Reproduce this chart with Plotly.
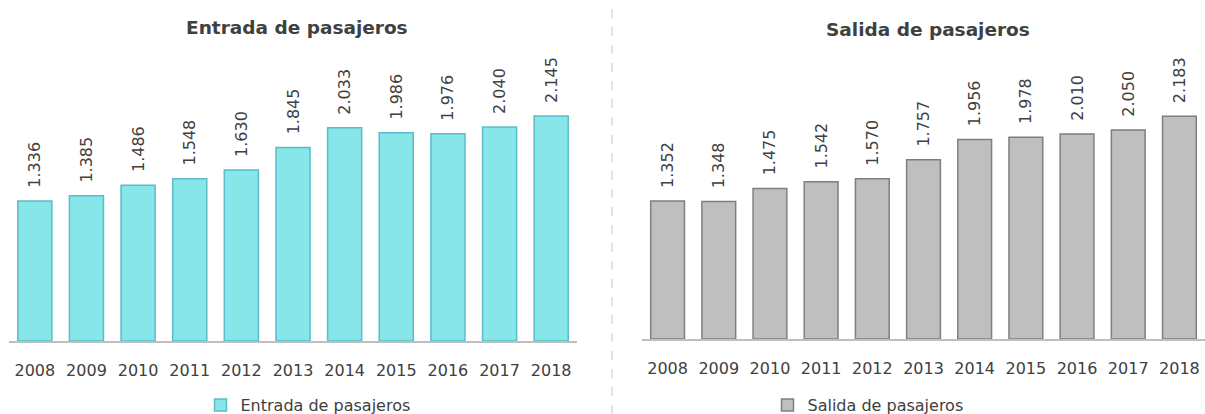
import plotly.graph_objects as go

years = ["2008", "2009", "2010", "2011", "2012", "2013", "2014", "2015", "2016", "2017", "2018"]
entrada = [1.336, 1.385, 1.486, 1.548, 1.630, 1.845, 2.033, 1.986, 1.976, 2.040, 2.145]
salida = [1.352, 1.348, 1.475, 1.542, 1.570, 1.757, 1.956, 1.978, 2.010, 2.050, 2.183]

FONT = "DejaVu Sans"
TXT = "#404040"
W, H = 1205, 414
PAD = "\u00a0\u00a0"  # small gap between bar top and rotated label

fig = go.Figure()
fig.add_trace(go.Bar(
    x=years, y=entrada, name="Entrada de pasajeros", showlegend=True,
    marker=dict(color="#86E6E8", line=dict(color="#5BBCCB", width=1.5)),
    text=[PAD + f"{v:.3f}" for v in entrada], textposition="outside", textangle=-90,
    constraintext="none",
    textfont=dict(family=FONT, size=16, color=TXT), cliponaxis=False,
    xaxis="x", yaxis="y", legend="legend",
))
fig.add_trace(go.Bar(
    x=years, y=salida, name="Salida de pasajeros", showlegend=True,
    marker=dict(color="#BFBFBF", line=dict(color="#7F7F7F", width=1.5)),
    text=[PAD + f"{v:.3f}" for v in salida], textposition="outside", textangle=-90,
    constraintext="none",
    textfont=dict(family=FONT, size=16, color=TXT), cliponaxis=False,
    xaxis="x2", yaxis="y2", legend="legend2",
))

def px_y(p):
    return 1 - p / H

axis_common = dict(showline=True, linecolor="#BFBFBF", linewidth=1.5, ticks="outside",
                   ticklen=14, tickcolor="rgba(0,0,0,0)", automargin=False,
                   tickfont=dict(family=FONT, size=16, color=TXT), showgrid=False, fixedrange=True)

fig.update_layout(
    width=W, height=H, margin=dict(l=0, r=0, t=0, b=0, autoexpand=False),
    paper_bgcolor="white", plot_bgcolor="white",
    bargap=0.34,
    showlegend=True,
    xaxis=dict(domain=[9 / W, 577 / W], anchor="y", **axis_common),
    yaxis=dict(domain=[px_y(341), px_y(60)], range=[0, 2.68], visible=False, anchor="x"),
    xaxis2=dict(domain=[642 / W, 1.0], anchor="y2", **axis_common),
    yaxis2=dict(domain=[px_y(339), px_y(60)], range=[0, 2.735], visible=False, anchor="x2"),
    legend=dict(x=308 / W, y=px_y(405), xanchor="center", yanchor="middle", orientation="h",
                font=dict(family=FONT, size=16, color=TXT), bgcolor="rgba(0,0,0,0)",
                itemwidth=30),
    legend2=dict(x=868 / W, y=px_y(405), xanchor="center", yanchor="middle", orientation="h",
                 font=dict(family=FONT, size=16, color=TXT), bgcolor="rgba(0,0,0,0)",
                 itemwidth=30),
    annotations=[
        dict(text="<b>Entrada de pasajeros</b>", x=297 / W, y=px_y(28), xref="paper", yref="paper",
             showarrow=False, font=dict(family=FONT, size=18.5, color=TXT), xanchor="center", yanchor="middle"),
        dict(text="<b>Salida de pasajeros</b>", x=928 / W, y=px_y(30), xref="paper", yref="paper",
             showarrow=False, font=dict(family=FONT, size=18.5, color=TXT), xanchor="center", yanchor="middle"),
    ],
    shapes=[
        dict(type="line", xref="paper", yref="paper", x0=612 / W, x1=612 / W, y0=0, y1=1,
             line=dict(color="#C8C8C8", width=1, dash="dash")),
    ],
)

fig.write_html("out.html")
